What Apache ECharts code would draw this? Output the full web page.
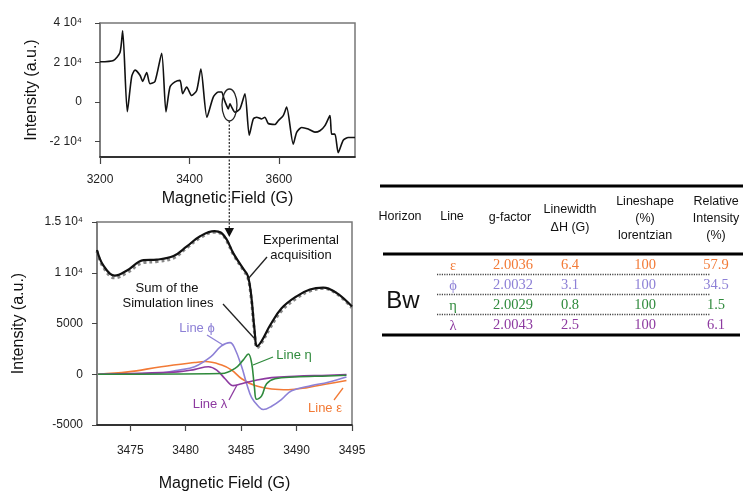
<!DOCTYPE html>
<html>
<head>
<meta charset="utf-8">
<script src="https://cdn.jsdelivr.net/npm/echarts@6/dist/echarts.min.js"></script>
<style>html,body{margin:0;padding:0;background:#fff;}#chart{width:743px;height:493px;}</style>
</head>
<body>
<div id="chart"></div>
<script>
// ---------- DATA ----------
// Top panel: full EPR spectrum [field (G), intensity]
const topSpectrum = [
  [3200,20300],[3230,21000],[3244.7,25000],[3250.7,36000],[3261,-5000],[3270.8,12800],
  [3278.2,16100],[3289.4,13500],[3295.4,10400],[3304.4,14900],[3311.7,9200],[3322.9,10300],
  [3337.9,24600],[3347.5,-5100],[3356.4,7500],[3367.6,10100],[3378.8,10900],[3384.8,4100],
  [3393.7,7500],[3404.9,3200],[3416.1,5800],[3425.5,16600],[3439,-7800],[3453.2,2400],
  [3464.4,5000],[3472,5000],[3477.1,1500],[3483.1,-1900],[3486.7,-3600],[3490.5,-1000],
  [3494.3,-2700],[3501.7,-5300],[3512.8,-3600],[3524,4100],[3533.6,-17000],[3542.6,-8700],
  [3550.2,-7800],[3561.3,-8700],[3568.7,-7800],[3576.1,-11000],[3591.1,-11500],[3598.4,-9600],
  [3609.6,-7000],[3617.2,-2700],[3632,-21500],[3639.6,-15500],[3650.7,-13000],[3665.5,-13800],
  [3680.4,-15400],[3691.6,-14700],[3702.8,-12100],[3714,-7000],[3717.8,-16400],[3725.1,-16400],
  [3732.5,-25800],[3743.7,-19500],[3754.9,-18100],[3770,-18100]
];
// Bottom panel: zoom
const experimental = [
  [3472,12250],[3472.57,10730],[3473.6,9710],[3474.7,10220],[3476.2,11240],[3477.4,11300],
  [3478.9,11640],[3480.1,12590],[3481.3,13600],[3482.6,14110],[3483.2,13940],[3483.7,13270],
  [3484.3,11910],[3485.2,10380],[3485.6,9710],[3485.9,7850],[3486.2,4470],[3486.45,2770],
  [3486.85,3280],[3487.6,4800],[3488.65,6500],[3490,7680],[3491.2,8350],[3492.4,8530],
  [3493.6,8020],[3495,6670]
];
const simulationSum = [
  [3472,12100],[3472.57,10550],[3473.6,9500],[3474.7,10000],[3476.2,11000],[3477.4,11100],
  [3478.9,11450],[3480.1,12450],[3481.3,13450],[3482.6,14000],[3483.2,13850],[3483.7,13150],
  [3484.3,11800],[3485.2,10250],[3485.6,9550],[3485.9,7600],[3486.2,4200],[3486.45,2600],
  [3486.85,3100],[3487.6,4550],[3488.65,6250],[3490,7500],[3491.2,8200],[3492.4,8450],
  [3493.6,7950],[3495,6550]
];
const linePhi = [
  [3472.1,0],[3476.3,70],[3477.8,130],[3479.3,400],[3480.8,740],[3482.3,1760],[3483.2,2770],
  [3484,3120],[3484.4,2610],[3485.05,740],[3485.5,-940],[3485.95,-2300],[3486.55,-3150],
  [3487,-3480],[3487.75,-3150],[3488.65,-2470],[3489.55,-1620],[3491.35,-1120],[3492.85,-780],[3494.5,-270]
];
const lineEpsilon = [
  [3472.1,0],[3474.8,230],[3477.8,740],[3480.8,1150],[3481.75,1250],[3483.25,910],[3484.15,410],
  [3485.05,-440],[3486.25,-1120],[3487.75,-1450],[3489.25,-1520],[3491.05,-1290],[3492.85,-940],[3494.5,-610]
];
const lineEta = [
  [3472.1,0],[3483.25,70],[3484.45,580],[3485.2,1420],[3485.65,2000],[3485.95,1090],[3486.2,-1290],
  [3486.4,-2470],[3486.85,-2130],[3487.3,-940],[3488.05,-440],[3489.85,-270],[3492.85,-170],[3494.5,-100]
];
const lineLambda = [
  [3472.1,0],[3479.3,230],[3480.85,480],[3482.05,740],[3482.8,410],[3483.55,-440],[3484.3,-1120],
  [3485.05,-940],[3486.25,-610],[3487.75,-330],[3489.85,-200],[3492.85,-100],[3494.5,-30]
];
const topXTicks = [3200,3400,3600];
const topYTicks = [-20000,0,20000,40000];
const botXTicks = [3475,3480,3485,3490,3495];
// Table
const tableHeaders = [['Horizon'],['Line'],['g-factor'],['Linewidth','\u0394H (G)'],['Lineshape','(%)','lorentzian'],['Relative','Intensity','(%)']];
const tableHorizon = 'Bw';
const tableLines = ['\u03b5','\u03d5','\u03b7','\u03bb'];
const gFactors = ['2.0036','2.0032','2.0029','2.0043'];
const linewidths = ['6.4','3.1','0.8','2.5'];
const lineshapes = ['100','100','100','100'];
const relIntensity = ['57.9','34.5','1.5','6.1'];

// ---------- STYLE ----------
const sans = '"Liberation Sans", Arial, sans-serif';
const serif = '"Liberation Serif", "Times New Roman", serif';
const cEps = '#f27a36', cPhi = '#8d80d6', cEta = '#2f8a3c', cLam = '#8d3aa0';
const lineCols = [cEps, cPhi, cEta, cLam];

function T(text, x, y, size, fill, family, extra) {
  return Object.assign({
    type: 'text', z: 10,
    style: { text: text, x: x, y: y, fill: fill || '#111',
      font: (size||13) + 'px ' + (family || sans),
      textAlign: 'center', textVerticalAlign: 'middle', align: 'center', verticalAlign: 'middle' }
  }, extra || {});
}
function L(x1, y1, x2, y2, stroke, w, dash) {
  return { type: 'line', z: 10, shape: {x1, y1, x2, y2},
    style: { stroke: stroke || '#111', lineWidth: w || 1, lineDash: dash || null } };
}

const graphics = [];
// arrow from circled region to zoom
graphics.push({ type: 'ellipse', z: 10, shape: {cx: 229.5, cy: 105, rx: 7.5, ry: 16}, style: {fill: 'none', stroke: '#222', lineWidth: 1.3} });
graphics.push(L(229.3, 121, 229.3, 229, '#333', 1.3, [2, 1.5]));
graphics.push({ type: 'polygon', z: 10, shape: {points: [[224.5,228],[234,228],[229.3,237]]}, style: {fill: '#111'} });
// annotations in zoom panel
graphics.push(T('Experimental', 301, 240, 13, '#111'));
graphics.push(T('acquisition', 301, 255, 13, '#111'));
graphics.push(L(267, 257, 248, 279, '#222', 1.3));
graphics.push(T('Sum of the', 167, 288, 13, '#111'));
graphics.push(T('Simulation lines', 168, 303, 13, '#111'));
graphics.push(L(223, 304, 254, 338, '#222', 1.3));
graphics.push(T('Line \u03d5', 197, 328, 13, cPhi));
graphics.push(L(207, 335, 223, 345, cPhi, 1.3));
graphics.push(T('Line \u03b7', 294, 355, 13, cEta));
graphics.push(L(273, 357, 253, 365, cEta, 1.3));
graphics.push(T('Line \u03bb', 210, 404, 13, cLam));
graphics.push(L(229, 400, 237, 385, cLam, 1.3));
graphics.push(T('Line \u03b5', 325, 408, 13, cEps));
graphics.push(L(334, 400, 343, 388, cEps, 1.3));

// table
graphics.push(L(380, 186, 743, 186, '#000', 3));
graphics.push(L(383, 254, 743, 254, '#000', 3));
graphics.push(L(382, 335, 740, 335, '#000', 3));
const hdrX = [400, 452, 510, 570, 645, 716];
const hdrY = { 1: [217], 2: [210, 228], 3: [202, 219, 236] };
tableHeaders.forEach((h, i) => {
  const ys = i === 2 ? [218] : hdrY[h.length];
  h.forEach((s, j) => graphics.push(T(s, hdrX[i], ys[j], 12.5, '#111')));
});
graphics.push(T(tableHorizon, 403, 301, 24, '#111'));
const rowY = [265, 285, 305, 325];
const colX = [453, 513, 570, 645, 716];
tableLines.forEach((s, r) => {
  const c = lineCols[r];
  graphics.push(T(s, colX[0], rowY[r] + 1, 14.5, c, serif));
  graphics.push(T(gFactors[r], colX[1], rowY[r], 14.5, c, serif));
  graphics.push(T(linewidths[r], colX[2], rowY[r], 14.5, c, serif));
  graphics.push(T(lineshapes[r], colX[3], rowY[r], 14.5, c, serif));
  graphics.push(T(relIntensity[r], colX[4], rowY[r], 14.5, c, serif));
});
[274.5, 294.5, 314.5].forEach(y => graphics.push(L(437, y, 710, y, '#444', 1.6, [1.2, 1.2])));

const axisTxt = { fontSize: 16, color: '#111', fontFamily: sans };
const tickLbl = { fontSize: 12, color: '#222', fontFamily: sans };
const plain = v => String(v);

const chart = echarts.init(document.getElementById('chart'), null, { renderer: 'canvas' });
chart.setOption({
  animation: false,
  backgroundColor: '#fff',
  grid: [
    { left: 100, top: 23, width: 255, height: 134, show: true, borderColor: '#777', borderWidth: 1.5 },
    { left: 97, top: 222, width: 255, height: 203, show: true, borderColor: '#777', borderWidth: 1.5 }
  ],
  xAxis: [
    { gridIndex: 0, type: 'value', min: 3200, max: 3770,
      axisLine: { show: true, onZero: false, lineStyle: { color: '#111', width: 1.5 } },
      axisTick: { show: true, customValues: topXTicks, length: 7, lineStyle: { color: '#444', width: 1.2 } },
      axisLabel: Object.assign({ customValues: topXTicks, margin: 17, formatter: plain }, tickLbl),
      splitLine: { show: false },
      name: 'Magnetic Field (G)', nameLocation: 'middle', nameGap: 34, nameTextStyle: axisTxt },
    { gridIndex: 1, type: 'value', min: 3472, max: 3495,
      axisLine: { show: true, onZero: false, lineStyle: { color: '#111', width: 1.5 } },
      axisTick: { show: true, customValues: botXTicks, length: 6, lineStyle: { color: '#444', width: 1.2 } },
      axisLabel: Object.assign({ customValues: botXTicks, margin: 20, formatter: plain }, tickLbl),
      splitLine: { show: false },
      name: 'Magnetic Field (G)', nameLocation: 'middle', nameGap: 51, nameTextStyle: axisTxt }
  ],
  yAxis: [
    { gridIndex: 0, type: 'value', min: -28000, max: 40000,
      axisLine: { show: true, lineStyle: { color: '#777', width: 1.5 } },
      axisTick: { show: true, customValues: topYTicks, length: 5, lineStyle: { color: '#444' } },
      axisLabel: Object.assign({ customValues: topYTicks, margin: 18,
        formatter: v => v === 0 ? '0' : (v / 10000) + ' 10\u2074' }, tickLbl),
      splitLine: { show: false },
      name: 'Intensity (a.u.)', nameLocation: 'middle', nameGap: 60, nameTextStyle: axisTxt },
    { gridIndex: 1, type: 'value', min: -5000, max: 15000, interval: 5000,
      axisLine: { show: true, lineStyle: { color: '#777', width: 1.5 } },
      axisTick: { show: true, length: 5, lineStyle: { color: '#444' } },
      axisLabel: Object.assign({ margin: 14,
        formatter: v => v === 15000 ? '1.5 10\u2074' : (v === 10000 ? '1 10\u2074' : String(v)) }, tickLbl),
      splitLine: { show: false },
      name: 'Intensity (a.u.)', nameLocation: 'middle', nameGap: 70, nameTextStyle: axisTxt }
  ],
  series: [
    { type: 'line', xAxisIndex: 0, yAxisIndex: 0, data: topSpectrum, symbol: 'none', smooth: 0.22,
      lineStyle: { color: '#111', width: 1.6 } },
    { type: 'line', xAxisIndex: 1, yAxisIndex: 1, data: simulationSum, symbol: 'none', smooth: 0.4,
      lineStyle: { color: '#888', width: 3, type: 'dotted' } },
    { type: 'line', xAxisIndex: 1, yAxisIndex: 1, data: experimental, symbol: 'none', smooth: 0.4,
      lineStyle: { color: '#111', width: 2.2 } },
    { type: 'line', xAxisIndex: 1, yAxisIndex: 1, data: lineEpsilon, symbol: 'none', smooth: 0.4,
      lineStyle: { color: cEps, width: 1.6 } },
    { type: 'line', xAxisIndex: 1, yAxisIndex: 1, data: linePhi, symbol: 'none', smooth: 0.4,
      lineStyle: { color: cPhi, width: 1.6 } },
    { type: 'line', xAxisIndex: 1, yAxisIndex: 1, data: lineLambda, symbol: 'none', smooth: 0.4,
      lineStyle: { color: cLam, width: 1.6 } },
    { type: 'line', xAxisIndex: 1, yAxisIndex: 1, data: lineEta, symbol: 'none', smooth: 0.4,
      lineStyle: { color: cEta, width: 1.6 } }
  ],
  graphic: graphics
});
</script>
</body>
</html>
